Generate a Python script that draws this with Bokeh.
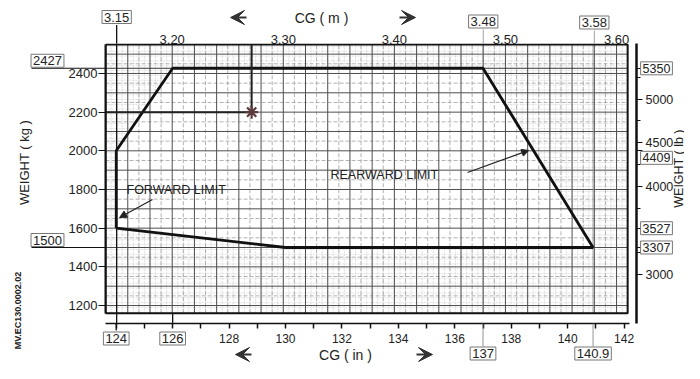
import numpy as np
from bokeh.plotting import figure
from bokeh.layouts import column
from bokeh.models import (Range1d, LinearAxis, FixedTicker, Label, Arrow,
                          VeeHead, NormalHead, NumeralTickFormatter)
from bokeh.embed import file_html
from bokeh.resources import INLINE

# ---------------- data ----------------
env_in = [124.0, 124.0, 126.0, 137.0, 140.9, 130.0, 124.0]
env_kg = [1600, 2000, 2427, 2427, 1500, 1500, 1600]
load_in = 128.8
load_kg = 2200

in_ticks = [124, 126, 128, 130, 132, 134, 136, 138, 140, 142]
in_minor = [125, 127, 129, 131, 133, 135, 137, 139, 141]
in_boxed = [124, 126]
in_extra = [137, 140.9]

kg_ticks = [1200, 1400, 1600, 1800, 2000, 2200, 2400]
kg_boxed = [2427, 1500]

lb_ticks = [3000, 4000, 4500, 5000]
lb_boxed = [3307, 3527, 4409, 5350]
lb_minor = [3250, 3750, 4250, 4750, 5250]

m_ticks = [3.20, 3.30, 3.40, 3.50, 3.60]
m_boxed = [3.15, 3.48, 3.58]

# ---------------- geometry ----------------
W, H = 684, 363
FL, FR, FT, FB = 105, 636, 43, 323          # frame edges in canvas pixels
M2IN = 1 / 0.0254
KG2LB = 2.20462
X_START, X_END = 123.62, 142.44
Y_START, Y_END = 1107, 2555
GRID_L, GRID_R = 3.14 * M2IN, 3.61 * M2IN
GRID_B, GRID_T = 1160, 2550
KG_PER_PX = (Y_END - Y_START) / (FB - FT)

def xd(px):
    return X_START + (px - FL) * (X_END - X_START) / (FR - FL)

def yd(py):
    return Y_START + (FB - py) * (Y_END - Y_START) / (FB - FT)

FONT = "Liberation Sans"
INK = "#222222"

# ================= main figure (frame + axes) =================
p = figure(width=W, height=H, output_backend="svg", toolbar_location=None,
           x_range=Range1d(X_START, X_END), y_range=Range1d(Y_START, Y_END),
           x_axis_location=None, y_axis_location=None,
           min_border_left=FL, min_border_right=W - FR, min_border_top=FT, min_border_bottom=H - FB)
p.grid.visible = False
p.outline_line_color = None
p.background_fill_color = "white"
p.border_fill_color = "white"
p.frame_align = False
p.extra_x_ranges = {"m": Range1d(X_START * 0.0254, X_END * 0.0254)}
p.extra_y_ranges = {"lb": Range1d(Y_START * KG2LB, Y_END * KG2LB)}

# grid paper
fine_x = np.arange(3.14, 3.6101, 0.005) * M2IN
fine_y = np.arange(1165, 2550, 25)
p.segment(x0=fine_x, y0=GRID_B, x1=fine_x, y1=GRID_T, line_color="#d2d2d2", line_width=0.7, line_dash="2 1")
p.segment(x0=GRID_L, y0=fine_y, x1=GRID_R, y1=fine_y, line_color="#d2d2d2", line_width=0.7, line_dash="2 1")

p.patch(env_in, env_kg, fill_color="white", line_color=None)

mid_x = np.arange(3.15, 3.6101, 0.02) * M2IN
mid_y = np.arange(1250, 2550, 100)
p.segment(x0=mid_x, y0=GRID_B, x1=mid_x, y1=GRID_T, line_color="#a0a0a0", line_width=0.8, line_dash="4 2")
p.segment(x0=GRID_L, y0=mid_y, x1=GRID_R, y1=mid_y, line_color="#a0a0a0", line_width=0.8, line_dash="4 2")

maj_x = np.arange(3.14, 3.6101, 0.02) * M2IN
maj_y = np.arange(1200, 2550, 100)
p.segment(x0=maj_x, y0=GRID_B, x1=maj_x, y1=GRID_T, line_color="#4e4e4e", line_width=1)
p.segment(x0=GRID_L, y0=maj_y, x1=GRID_R, y1=maj_y, line_color="#4e4e4e", line_width=1)

# reference lines
p.segment(x0=GRID_L, y0=kg_boxed[0], x1=GRID_R, y1=kg_boxed[0], line_color="#333", line_width=1)
p.segment(x0=in_extra, y0=GRID_B, x1=in_extra, y1=GRID_T, line_color="#8a8a8a", line_width=0.8)
p.segment(x0=m_boxed[0] * M2IN, y0=Y_START, x1=m_boxed[0] * M2IN, y1=Y_END, line_color="#111", line_width=1.3)
p.segment(x0=in_boxed[1], y0=Y_START, x1=in_boxed[1], y1=GRID_B, line_color="#111", line_width=1.3)

# grid frame
p.quad(left=GRID_L, right=GRID_R, bottom=GRID_B, top=GRID_T, fill_color=None, line_color="#111", line_width=2)

# envelope
p.line(env_in, env_kg, line_color="#111", line_width=2.8)

# loading path
p.line([GRID_L, load_in, load_in], [load_kg, load_kg, GRID_T], line_color="#222", line_width=2)
p.scatter([load_in], [load_kg], marker="asterisk", size=13, line_color="#5b3b3b", line_width=2.2)

# limit labels
p.add_layout(Label(x=xd(126), y=yd(189), text="FORWARD LIMIT", text_align="left", text_baseline="middle",
                   text_font=FONT, text_font_size="12.5px", text_color=INK))
p.add_layout(Arrow(end=NormalHead(size=7, fill_color=INK, line_color=INK),
                   x_start=xd(152), y_start=yd(199), x_end=124.12, y_end=1655,
                   line_color=INK, line_width=1.2))
p.add_layout(Label(x=xd(330), y=yd(174), text="REARWARD LIMIT", text_align="left", text_baseline="middle",
                   text_font=FONT, text_font_size="12.5px", text_color=INK))
p.add_layout(Arrow(end=NormalHead(size=7, fill_color=INK, line_color=INK),
                   x_start=xd(467), y_start=yd(172), x_end=138.62, y_end=2002,
                   line_color=INK, line_width=1.2))

# axes
def style(ax, size="13px"):
    ax.major_label_text_font = FONT
    ax.major_label_text_font_size = size
    ax.major_label_text_color = INK
    ax.axis_line_color = "#111"
    ax.major_tick_line_color = "#111"
    ax.minor_tick_line_color = "#111"
    ax.major_tick_in = 0
    ax.minor_tick_in = 0

xb = LinearAxis(ticker=FixedTicker(ticks=in_ticks, minor_ticks=in_minor), bounds=(X_START, 142.2))
style(xb, "12px")
xb.major_label_overrides = {v: "" for v in in_boxed}
xb.axis_line_width = 1.6
xb.major_tick_line_width = 1.5
xb.minor_tick_line_width = 1.5
xb.major_tick_out = 5
xb.minor_tick_out = 5
xb.major_label_standoff = 5
p.add_layout(xb, "below")

yl = LinearAxis(ticker=FixedTicker(ticks=kg_ticks, minor_ticks=[]), bounds=(GRID_B, GRID_T))
style(yl)
yl.axis_line_width = 2
yl.major_tick_out = 7
yl.major_label_standoff = 1
p.add_layout(yl, "left")

yr = LinearAxis(y_range_name="lb", ticker=FixedTicker(ticks=sorted(lb_ticks + lb_boxed), minor_ticks=lb_minor))
style(yr, "12.5px")
yr.major_label_overrides = {v: "" for v in lb_boxed}
yr.axis_line_width = 2.5
yr.major_tick_out = 6
yr.minor_tick_out = 4
yr.major_label_standoff = 3
p.add_layout(yr, "right")

xt = LinearAxis(x_range_name="m", ticker=FixedTicker(ticks=m_ticks, minor_ticks=[]),
                formatter=NumeralTickFormatter(format="0.00"))
style(xt)
xt.axis_line_color = None
xt.major_tick_line_color = None
xt.major_tick_out = 0
xt.major_label_standoff = 0
p.add_layout(xt, "above")

# ================= overlay figure (texts outside the frame) =================
q = figure(width=W, height=H, output_backend="svg", toolbar_location=None,
           x_range=Range1d(xd(0), xd(W)), y_range=Range1d(yd(H), yd(0)),
           x_axis_location=None, y_axis_location=None, min_border=0)
q.grid.visible = False
q.outline_line_color = None
q.background_fill_alpha = 0
q.border_fill_alpha = 0
q.frame_align = False
q.margin = (-H, 0, 0, 0)

def text(t, x, y, size="13px", align="center", angle=0.0, bold=False):
    q.add_layout(Label(x=x, y=y, text=t, text_align=align, text_baseline="middle",
                       text_font=FONT, text_font_size=size, text_color=INK, angle=angle,
                       text_font_style="bold" if bold else "normal"))

def boxed(t, x, y, size="13px"):
    q.add_layout(Label(x=x, y=y, text=t, text_align="center", text_baseline="middle",
                       text_font=FONT, text_font_size=size, text_color=INK,
                       border_line_color="#777", border_line_width=1,
                       background_fill_color="white", padding=2))

def rule(x0, y0, x1, y1, w=1.2, c="#111"):
    q.add_layout(Arrow(start=None, end=None, x_start=x0, y_start=y0, x_end=x1, y_end=y1,
                       line_color=c, line_width=w))

# top (m) boxed values with their leader lines
for v, py in zip(m_boxed, [16.5, 21, 22]):
    main = v == m_boxed[0]
    rule(v * M2IN, yd(py + 8), v * M2IN, Y_END, w=1.3 if main else 0.8, c="#111" if main else "#888")
    boxed(f"{v:.2f}", v * M2IN, yd(py))

# left boxed kg values
for v in kg_boxed:
    rule(xd(31), v, X_START, v, w=1)
    boxed(str(v), xd(47), v + 7.5 * KG_PER_PX)

# right boxed lb values (4409 set a little lower, clear of the 4500 label)
for v in lb_boxed:
    shift = -7 * KG_PER_PX if v == 4409 else 0
    boxed(str(v), xd(656), v / KG2LB + shift, size="12.5px")

# bottom boxed in values
rule(in_boxed[0], Y_START, in_boxed[0], yd(330), w=1.3)
for v in in_boxed:
    boxed(str(v), v, yd(338))
for v in in_extra:
    rule(v, Y_START, v, yd(346), w=0.8, c="#777")
    boxed(str(v), v, yd(353))

# axis titles and direction arrows
text("CG ( m )", xd(321), yd(17), size="14px")
text("CG ( in )", xd(345), yd(354), size="14px")
for tip, tail, py in [(230, 246, 17), (415, 399, 17), (235, 251, 354), (432, 416, 354)]:
    q.add_layout(Arrow(end=VeeHead(size=14, fill_color="#333", line_color="#333"),
                       x_start=xd(tail), y_start=yd(py), x_end=xd(tip), y_end=yd(py),
                       line_color="#333", line_width=2))
text("WEIGHT ( kg )", xd(24), yd(162), angle=np.pi / 2)
text("WEIGHT ( lb )", xd(678), yd(168), size="12.5px", angle=np.pi / 2)
text("MV.EC130.0002.02", xd(17), yd(310), size="9px", angle=np.pi / 2, bold=True)

layout = column(p, q)
open("out.html", "w").write(file_html(layout, INLINE))
